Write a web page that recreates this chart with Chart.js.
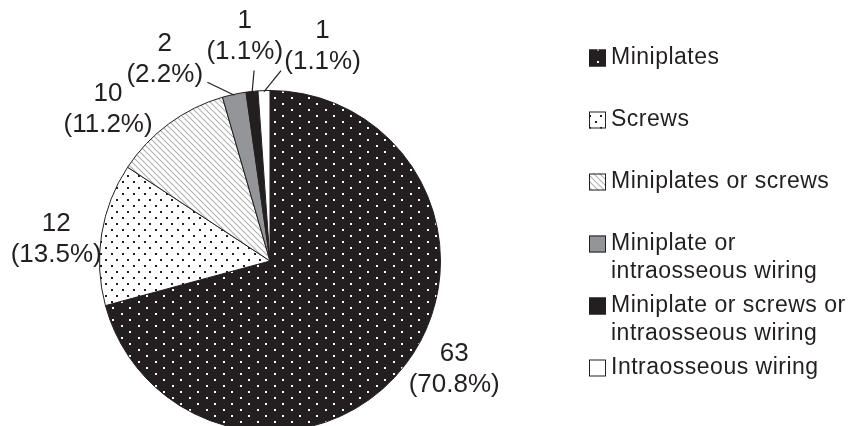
<!DOCTYPE html>
<html>
<head>
<meta charset="utf-8">
<script src="https://cdn.jsdelivr.net/npm/chart.js@4.4.1/dist/chart.umd.min.js"></script>
<style>
  html, body { margin: 0; padding: 0; background: #fff; overflow: hidden; }
  #wrap { width: 853px; height: 426px; overflow: hidden; }
</style>
</head>
<body>
<div id="wrap"><canvas id="fixationChart" width="853" height="440"></canvas></div>
<script>
// fixation methods
const methods = [
  'Miniplates',
  'Screws',
  'Miniplates or screws',
  'Miniplate or intraosseous wiring',
  'Miniplate or screws or intraosseous wiring',
  'Intraosseous wiring'
];
const counts = [63, 12, 10, 2, 1, 1];
const percents = ['70.8%', '13.5%', '11.2%', '2.2%', '1.1%', '1.1%'];

const ink = '#231f20';

// small tiled fills for the slices
function dotFill(bg, dot, w, h, pts) {
  const c = document.createElement('canvas');
  c.width = w; c.height = h;
  const g = c.getContext('2d');
  g.fillStyle = bg;
  g.fillRect(0, 0, w, h);
  g.fillStyle = dot;
  pts.forEach(p => g.fillRect(p[0], p[1], 2, 2));
  return g.createPattern(c, 'repeat');
}

function hatchFill(step, color) {
  const c = document.createElement('canvas');
  c.width = step; c.height = step;
  const g = c.getContext('2d');
  g.fillStyle = '#fff';
  g.fillRect(0, 0, step, step);
  g.strokeStyle = color;
  g.lineWidth = 1.1;
  g.beginPath();
  for (let k = -1; k <= 1; k++) {
    g.moveTo(k * step - 1, -1);
    g.lineTo(k * step + step + 1, step + 1);
  }
  g.stroke();
  return g.createPattern(c, 'repeat');
}

const fills = [
  dotFill(ink, '#fff', 17, 12, [[2, 1], [10, 7]]),
  dotFill('#fff', ink, 11, 12, [[1, 1], [6, 7]]),
  hatchFill(6, '#b0b0b0'),
  '#939598',
  ink,
  '#ffffff'
];

// label placement around the pie
const labelNudge = [[17, -20], [-6, 12], [-37, 18], [-61, 4], [-3, -15], [60, -4]];
const leaders = [null, null, null, [-27, -13], [2, -22], [17, -21]];

const sliceLabels = {
  id: 'sliceLabels',
  afterDatasetsDraw(chart) {
    const ctx = chart.ctx;
    const arcs = chart.getDatasetMeta(0).data;
    ctx.save();
    ctx.fillStyle = ink;
    ctx.strokeStyle = ink;
    ctx.lineWidth = 1.2;
    ctx.font = '26px "Liberation Sans", Arial, sans-serif';
    ctx.textAlign = 'center';
    ctx.textBaseline = 'middle';
    arcs.forEach((arc, i) => {
      const mid = (arc.startAngle + arc.endAngle) / 2;
      const r = arc.outerRadius;
      const x = arc.x + Math.cos(mid) * (r + 40) + labelNudge[i][0];
      const y = arc.y + Math.sin(mid) * (r + 40) + labelNudge[i][1];
      ctx.fillText(String(counts[i]), x, y - 15.5);
      ctx.fillText('(' + percents[i] + ')', x, y + 15.5);
      if (leaders[i]) {
        const sx = arc.x + Math.cos(mid) * (r - 1);
        const sy = arc.y + Math.sin(mid) * (r - 1);
        ctx.beginPath();
        ctx.moveTo(sx, sy);
        ctx.lineTo(sx + leaders[i][0], sy + leaders[i][1]);
        ctx.stroke();
      }
    });
    ctx.restore();
  }
};

// legend on the right, wrapped lines
function wrapWords(ctx, text, maxW) {
  const words = text.split(' ');
  const lines = [];
  let line = '';
  words.forEach(w => {
    const t = line ? line + ' ' + w : w;
    if (ctx.measureText(t).width > maxW && line) {
      lines.push(line);
      line = w;
    } else {
      line = t;
    }
  });
  lines.push(line);
  return lines;
}

const sideLegend = {
  id: 'sideLegend',
  afterDraw(chart) {
    const ctx = chart.ctx;
    const ds = chart.data.datasets[0];
    const boxX = 589, box = 17, textX = 611;
    ctx.save();
    ctx.font = '23px "Liberation Sans", Arial, sans-serif';
    ctx.letterSpacing = '0.5px';
    ctx.textBaseline = 'middle';
    ctx.textAlign = 'left';
    chart.data.labels.forEach((lab, i) => {
      const y0 = 58 + i * 62;
      ctx.fillStyle = ds.backgroundColor[i];
      ctx.fillRect(boxX, y0 - box / 2, box, box);
      ctx.strokeStyle = ink;
      ctx.lineWidth = 1;
      ctx.strokeRect(boxX + 0.5, y0 - box / 2 + 0.5, box - 1, box - 1);
      ctx.fillStyle = ink;
      wrapWords(ctx, lab, 238).forEach((ln, k) => {
        ctx.fillText(ln, textX, y0 + k * 28);
      });
    });
    ctx.restore();
  }
};

new Chart(document.getElementById('fixationChart'), {
  type: 'pie',
  data: {
    labels: methods,
    datasets: [{
      data: counts,
      backgroundColor: fills,
      borderColor: ink,
      borderWidth: 1
    }]
  },
  options: {
    responsive: false,
    animation: false,
    layout: { padding: { top: 90, bottom: 8, left: 99, right: 412 } },
    plugins: {
      legend: { display: false },
      tooltip: { enabled: false }
    }
  },
  plugins: [sliceLabels, sideLegend]
});
</script>
</body>
</html>
